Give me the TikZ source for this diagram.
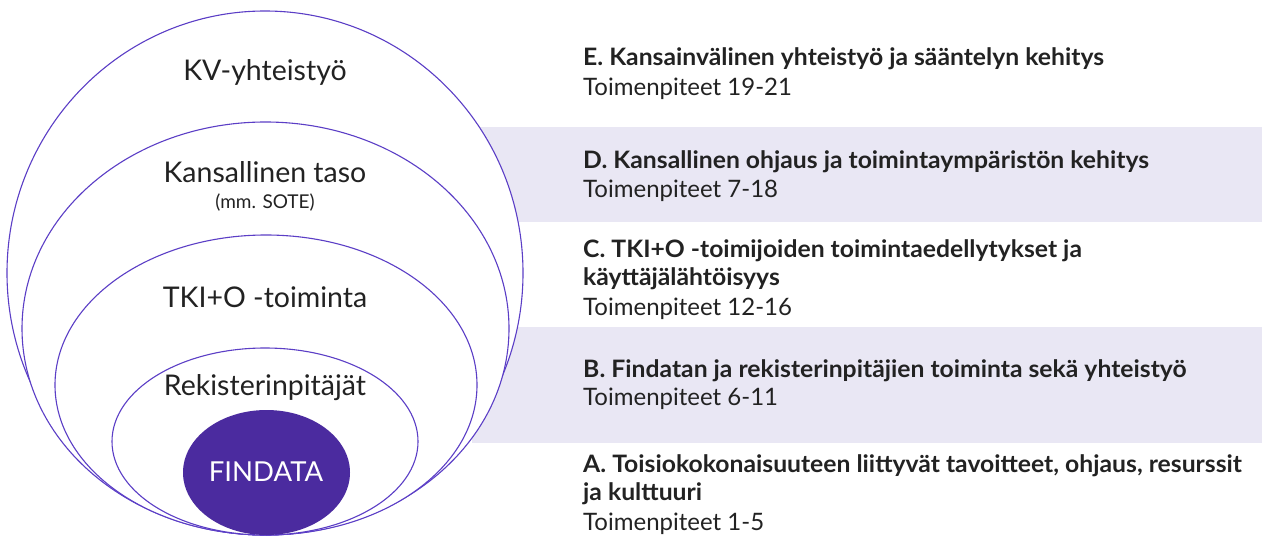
\documentclass[tikz,border=0pt]{standalone}
\usepackage{fontspec}
\setmainfont{Lato}
\newfontfamily\headfont[FakeStretch=1.03]{Lato}
\usepackage{tikz}
\definecolor{ringline}{HTML}{5B3EC6}
\definecolor{coreviolet}{HTML}{4B2B9F}
\definecolor{bandgray}{HTML}{E9E7F4}
\definecolor{inktext}{HTML}{222222}
\tikzset{
  ring/.style={draw=ringline, line width=1.1pt, fill=white},
  band/.style={fill=bandgray, draw=none},
  levelname/.style={text=inktext, font=\fontsize{28.5}{32}\selectfont},
  headline/.style={anchor=base west, text=inktext, font=\headfont\bfseries\fontsize{24}{28}\selectfont, inner sep=0pt},
  subline/.style={anchor=base west, text=inktext, font=\fontsize{24}{28}\selectfont, inner sep=0pt}
}

\begin{document}
\begin{tikzpicture}[x=1pt, y=-1pt]
\useasboundingbox (0,0) rectangle (1265,540);
% Bands
\fill[band] (472,127) rectangle (1262,222);
\fill[band] (472,327) rectangle (1262,443);
% Rings
\draw[ring] (265,273) ellipse [x radius=258, y radius=262];
\draw[ring] (265.5,328.5) ellipse [x radius=243.5, y radius=206.5];
\draw[ring] (266,385) ellipse [x radius=211, y radius=150];
\draw[ring] (265,441.5) ellipse [x radius=153, y radius=93.5];
\fill[coreviolet] (266.5,472.5) ellipse [x radius=83.5, y radius=62.5];
% Ring names
\draw (265,72) node[levelname] (kv) {KV-yhteistyö};
\draw (265,172) node[levelname] (kansallinen) {Kansallinen taso};
\draw (265,203) node[text=inktext, font=\fontsize{19}{22}\selectfont] (sote) {(mm. SOTE)};
\draw (265,297) node[levelname] (tki) {TKI+O -toiminta};
\draw (265,388) node[levelname] (rekisteri) {Rekisterinpitäjät};
\draw (266,472) node[text=white, font=\fontsize{27.5}{32}\selectfont] (findata) {FINDATA};
% Measures
\draw (583,66) node[headline] (e1) {E. Kansainvälinen yhteistyö ja sääntelyn kehitys};
\draw (583,96) node[subline] (e2) {Toimenpiteet 19-21};
\draw (583,168) node[headline] (d1) {D. Kansallinen ohjaus ja toimintaympäristön kehitys};
\draw (583,197) node[subline] (d2) {Toimenpiteet 7-18};
\draw (583,257) node[headline] (c1) {C. TKI+O -toimijoiden toimintaedellytykset ja};
\draw (583,285) node[headline] (c2) {käyttäjälähtöisyys};
\draw (583,315) node[subline] (c3) {Toimenpiteet 12-16};
\draw (583,377) node[headline] (b1) {B. Findatan ja rekisterinpitäjien toiminta sekä yhteistyö};
\draw (583,405) node[subline] (b2) {Toimenpiteet 6-11};
\draw (583,472) node[headline] (a1) {A. Toisiokokonaisuuteen liittyvät tavoitteet, ohjaus, resurssit};
\draw (583,500) node[headline] (a2) {ja kulttuuri};
\draw (583,530) node[subline] (a3) {Toimenpiteet 1-5};
\end{tikzpicture}
\end{document}
